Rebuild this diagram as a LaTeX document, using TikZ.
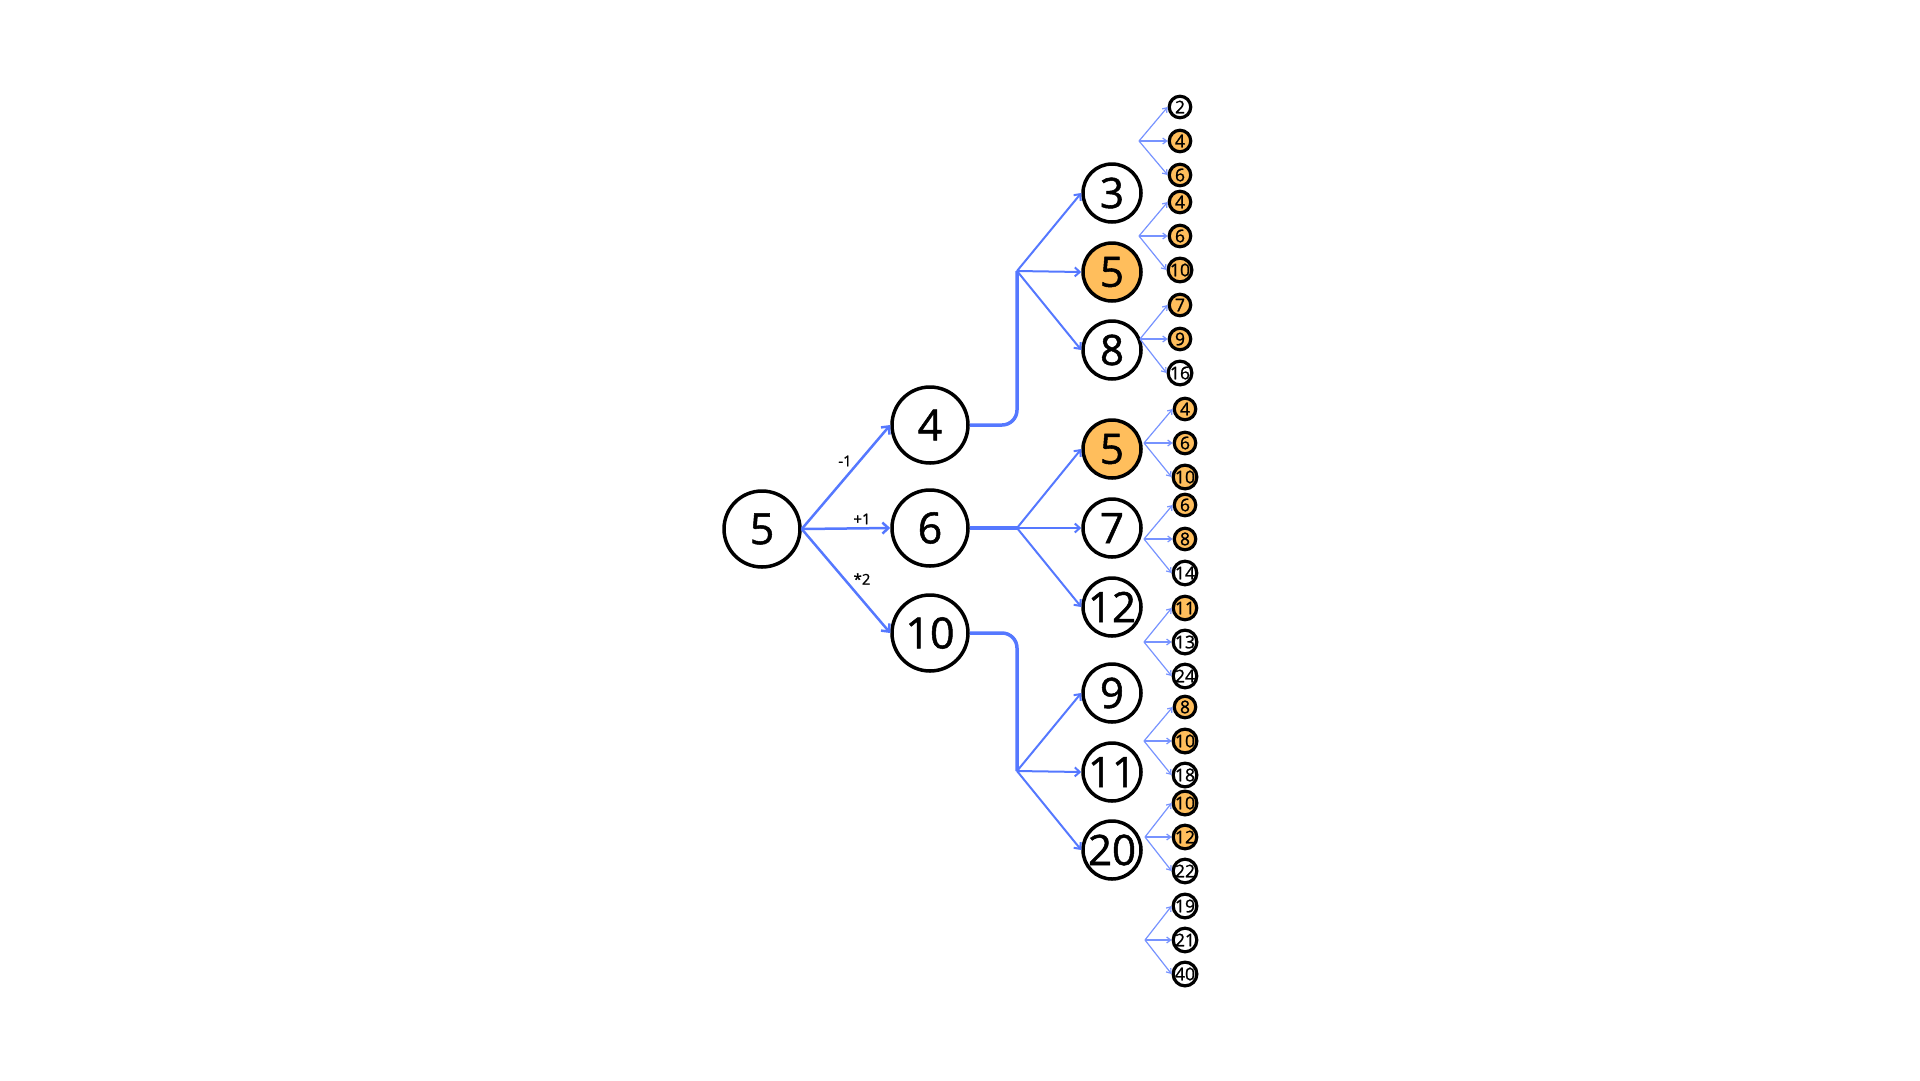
\documentclass[tikz,border=0pt]{standalone}
\usepackage{fontspec}
\setmainfont{Open Sans}
\newfontfamily\numfont[BoldFont={Open Sans},BoldFeatures={FakeBold=1.2}]{Open Sans}
\usetikzlibrary{arrows.meta}
\definecolor{edgeblue}{RGB}{85,120,255}
\definecolor{hl}{RGB}{255,190,92}
\begin{document}
\begin{tikzpicture}[x=1pt,y=-1pt,
  big/.style={circle,draw=black,line width=3.5pt,minimum size=76pt,inner sep=0pt,fill=white,font=\numfont\bfseries\fontsize{43}{43}\selectfont},
  mid/.style={circle,draw=black,line width=3.5pt,minimum size=58pt,inner sep=0pt,fill=white,font=\numfont\bfseries\fontsize{42}{42}\selectfont},
  leaf/.style={circle,draw=black,line width=3.2pt,minimum size=21.5pt,inner sep=0pt,font=\numfont\bfseries\fontsize{17.5}{17.5}\selectfont},
  hit/.style={fill=hl},
  nohit/.style={fill=white},
  elabel/.style={inner sep=0pt,font=\numfont\bfseries\fontsize{15}{15}\selectfont},
  arr1/.style={draw=edgeblue,line width=2.5pt,-{Straight Barb[length=6pt,width=11pt]}},
  arr2/.style={draw=edgeblue,line width=2pt,-{Straight Barb[length=5pt,width=9pt]}},
  arr3/.style={draw=edgeblue!80,line width=1.2pt,-{Straight Barb[length=4pt,width=6pt]}},
  trunk/.style={draw=edgeblue,line width=3.5pt,rounded corners=15pt}
]
\useasboundingbox (0,0) rectangle (1920,1080);

% level 0 and 1
\node[big] (r) at (762,529) {5};
\node[big] (n4) at (930,425) {4};
\node[big] (n6) at (930,528) {6};
\node[big] (n10) at (930,633) {10};

\draw[arr1] (r.east) -- (n4.west);
\draw[arr1] (r.east) -- (n6.west);
\draw[arr1] (r.east) -- (n10.west);

\node[elabel] (e1) at (845,461) {-1};
\node[elabel] (e2) at (862,519) {+1};
\node[elabel] (e3) at (862,579) {*2};

% branch points
\coordinate (b1) at (1017,271);
\coordinate (b2) at (1017,528);
\coordinate (b3) at (1017,771);

\draw[trunk] (n4.east) -| (b1);
\draw[trunk] (n6.east) -- (b2);
\draw[trunk] (n10.east) -| (b3);

% level 2
\node[mid] (m1) at (1112,193) {3};
\node[mid,hit] (m2) at (1112,272) {5};
\node[mid] (m3) at (1112,350) {8};
\node[mid,hit] (m4) at (1112,449) {5};
\node[mid] (m5) at (1112,528) {7};
\node[mid] (m6) at (1112,607) {12};
\node[mid] (m7) at (1112,693) {9};
\node[mid] (m8) at (1112,772) {11};
\node[mid] (m9) at (1112,850) {20};

\draw[arr2] (b1) -- (m1.west);
\draw[arr2] (b1) -- (m2.west);
\draw[arr2] (b1) -- (m3.west);
\draw[arr2] (b2) -- (m4.west);
\draw[arr2] (b2) -- (m5.west);
\draw[arr2] (b2) -- (m6.west);
\draw[arr2] (b3) -- (m7.west);
\draw[arr2] (b3) -- (m8.west);
\draw[arr2] (b3) -- (m9.west);

% level 3
\foreach \g/\bx/\cx/\cy/\ta/\tb/\tc/\fa/\fb/\fc in {
  1/1139/1180/141/2/4/6/nohit/hit/hit,
  2/1139/1180/236/4/6/10/hit/hit/hit,
  3/1140/1180/339/7/9/16/hit/hit/nohit,
  4/1144/1185/443/4/6/10/hit/hit/hit,
  5/1144/1185/539/6/8/14/hit/hit/nohit,
  6/1144/1185/642/11/13/24/hit/nohit/nohit,
  7/1144/1185/741/8/10/18/hit/hit/nohit,
  8/1145/1185/837/10/12/22/hit/hit/nohit,
  9/1145/1185/940/19/21/40/nohit/nohit/nohit}{
  \coordinate (g\g) at (\bx,\cy);
  \node[leaf,\fa] (l\g a) at (\cx,\cy-34) {\ta};
  \node[leaf,\fb] (l\g b) at (\cx,\cy) {\tb};
  \node[leaf,\fc] (l\g c) at (\cx,\cy+34) {\tc};
  \draw[arr3] (g\g) -- (l\g a.west);
  \draw[arr3] (g\g) -- (l\g b.west);
  \draw[arr3] (g\g) -- (l\g c.west);
}
\end{tikzpicture}
\end{document}
